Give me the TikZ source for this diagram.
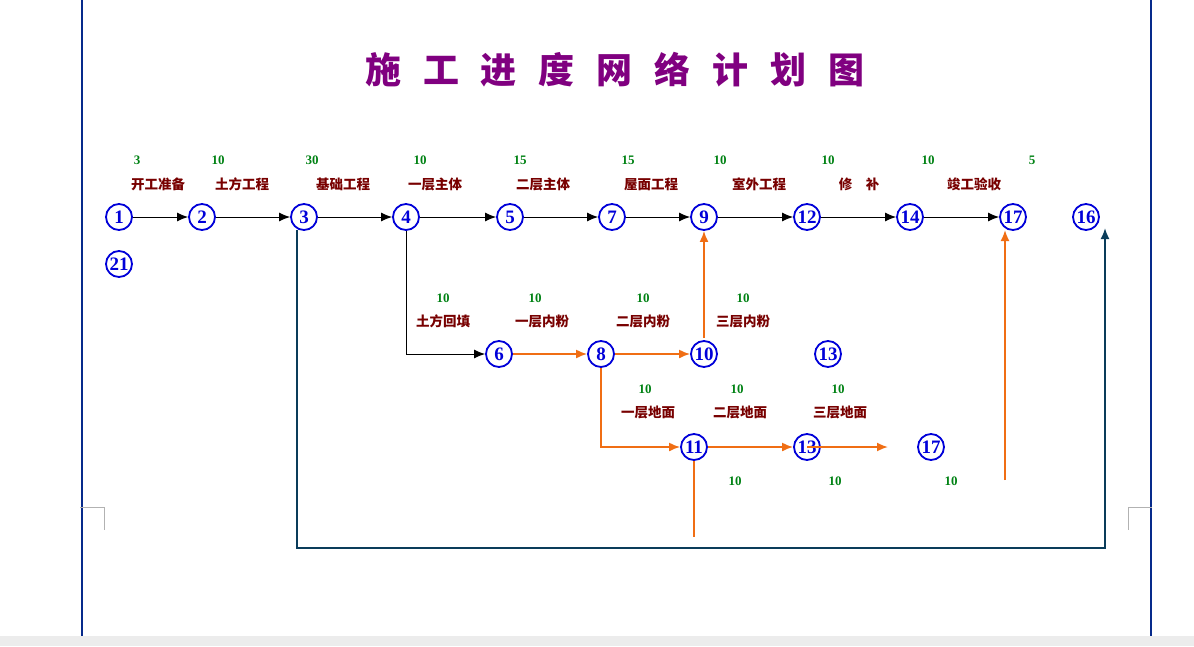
\documentclass[tikz,border=0pt]{standalone}
\usepackage{fontspec}
\setmainfont{Liberation Serif}
\newfontfamily\cjk{Noto Sans CJK SC}
\usetikzlibrary{arrows.meta}
\definecolor{navy}{RGB}{10,60,90}
\definecolor{org}{RGB}{240,110,20}
\definecolor{grn}{RGB}{0,130,20}
\definecolor{dred}{RGB}{120,0,0}
\definecolor{pur}{RGB}{128,0,128}
\tikzset{
 tip/.style={-{Latex[length=11pt,width=9pt]}},
 ev/.style={circle,draw=blue!85!black,line width=1.8pt,minimum size=26pt,inner sep=0pt,text=blue!85!black,font=\fontsize{19}{19}\selectfont\bfseries},
 num/.style={text=grn,font=\fontsize{13}{13}\selectfont\bfseries},
 lab/.style={text=dred,font=\cjk\fontsize{13.5}{13.5}\selectfont\bfseries},
 blk/.style={black,line width=1pt,tip},
 og/.style={org,line width=1.8pt,tip},
 ogn/.style={org,line width=1.8pt},
 nv/.style={navy,line width=1.8pt},
}
\begin{document}
\begin{tikzpicture}[x=1pt,y=-1pt]
\useasboundingbox (0,0) rectangle (1194,646);
\fill[white] (0,0) rectangle (1194,646);
\fill[gray!15] (0,636) rectangle (1194,646);
\draw[navy!70!blue,line width=2.5pt] (82,0)--(82,636) (1151,0)--(1151,636);
\draw[gray!60,line width=0.6pt] (80,507)--(104,507)--(104,530) (1152,507)--(1128,507)--(1128,530);
\node[text=pur,font=\cjk\fontsize{36}{36}\selectfont\bfseries] (t) at (615,70) {施\hspace{22pt}工\hspace{22pt}进\hspace{22pt}度\hspace{22pt}网\hspace{22pt}络\hspace{22pt}计\hspace{22pt}划\hspace{22pt}图};
\foreach \n/\x in {1/119,2/202,3/304,4/406,5/510,7/612,9/704,12/807,14/910,17/1013,16/1086}
  \node[ev] (a\n) at (\x,217) {\n};
\node[ev] (a21) at (119,264) {21};
\foreach \n/\x in {6/499,8/601,10/704,13/828}
  \node[ev] (b\n) at (\x,354) {\n};
\foreach \n/\x in {11/694,13/807,17/931}
  \node[ev] (c\n) at (\x,447) {\n};
\draw[blk] (a1)--(a2); \draw[blk] (a2)--(a3); \draw[blk] (a3)--(a4);
\draw[blk] (a4)--(a5); \draw[blk] (a5)--(a7); \draw[blk] (a7)--(a9);
\draw[blk] (a9)--(a12); \draw[blk] (a12)--(a14); \draw[blk] (a14)--(a17);
\draw[blk] (a4.south)--(406,354)--(b6.west);
\draw[og] (b6)--(b8);
\draw[og] (b8)--(b10);
\coordinate (p10) at (704,338);
\draw[og] (p10)--(a9);
\draw[og] (b8.south)--(601,447)--(c11.west);
\draw[og] (c11)--(c13.west);
\coordinate (e13) at (888,447);
\draw[og] (c13.center)--(e13);
\coordinate (d11) at (694,537);
\draw[ogn] (c11.south)--(d11);
\coordinate (u17) at (1005,480);
\draw[og] (u17)--(1005,230);
\coordinate (s3) at (297,230);
\coordinate (n16) at (1105,228);
\draw[nv,tip] (s3)--(297,548)--(1105,548)--(n16);
\foreach \t/\x in {3/137,10/218,30/312,10/420,15/520,15/628,10/720,10/828,10/928,5/1032}
  \node[num] at (\x,160) {\t};
\foreach \t/\x in {开工准备/158,土方工程/242,基础工程/343,一层主体/435,二层主体/543,屋面工程/651,室外工程/759,修\quad 补/859,竣工验收/974}
  \node[lab] at (\x,184) {\t};
\foreach \x in {443,535,643,743} \node[num] at (\x,298) {10};
\foreach \t/\x in {土方回填/443,一层内粉/542,二层内粉/643,三层内粉/743}
  \node[lab] at (\x,321) {\t};
\foreach \x in {645,737,838} \node[num] at (\x,389) {10};
\foreach \t/\x in {一层地面/648,二层地面/740,三层地面/840}
  \node[lab] at (\x,412) {\t};
\foreach \x in {735,835,951} \node[num] at (\x,481) {10};
\end{tikzpicture}
\end{document}
